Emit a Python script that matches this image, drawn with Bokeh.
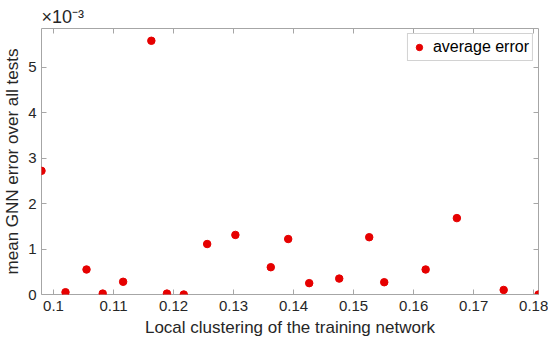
from bokeh.plotting import figure
from bokeh.models import (Range1d, FixedTicker, CustomJSTickFormatter, LinearAxis,
                          Legend, LegendItem, ColumnDataSource)
from bokeh.embed import file_html
from bokeh.resources import INLINE

# Data
clustering = [0.0980, 0.1020, 0.1055, 0.1082, 0.1116, 0.1163, 0.1189, 0.1217,
              0.1256, 0.1303, 0.1362, 0.1391, 0.1426, 0.1476, 0.1526, 0.1551,
              0.1620, 0.1672, 0.1750, 0.1808]
mean_error = [2.72e-3, 0.05e-3, 0.55e-3, 0.02e-3, 0.28e-3, 5.58e-3, 0.02e-3, 0.00e-3,
              1.11e-3, 1.31e-3, 0.60e-3, 1.22e-3, 0.25e-3, 0.35e-3, 1.26e-3, 0.27e-3,
              0.55e-3, 1.68e-3, 0.10e-3, 0.00e-3]
x_ticks = [0.10, 0.11, 0.12, 0.13, 0.14, 0.15, 0.16, 0.17, 0.18]
y_ticks = [0.0, 1e-3, 2e-3, 3e-3, 4e-3, 5e-3]
y_max = 5.85e-3

FONT = "Liberation Sans"
TXT = "#262626"
AX = "#a6a6a6"

p = figure(width=548, height=339, output_backend="svg", toolbar_location=None,
           x_range=Range1d(min(clustering), max(clustering)),
           y_range=Range1d(0, y_max),
           min_border_left=41, min_border_right=10, min_border_top=28, min_border_bottom=43,
           x_axis_label="Local clustering of the training network",
           y_axis_label="mean GNN error over all tests",
           title="\u00d710\u207b\u00b3")
p.background_fill_color = "white"
p.border_fill_color = "white"
p.grid.visible = False
p.outline_line_color = AX
p.outline_line_width = 1

p.title.text_font = FONT
p.title.text_font_size = "18px"
p.title.text_font_style = "normal"
p.title.text_color = TXT
p.title.align = "left"
p.title.offset = 0
p.title.standoff = 4

bottom = p.below[0]
left = p.left[0]

bottom.ticker = FixedTicker(ticks=x_ticks)
bottom.formatter = CustomJSTickFormatter(code="return String(Math.round(tick*100)/100);")
left.ticker = FixedTicker(ticks=y_ticks)
left.formatter = CustomJSTickFormatter(code="return String(Math.round(tick*1000));")

blank = CustomJSTickFormatter(code="return '';")
top = LinearAxis(ticker=FixedTicker(ticks=x_ticks), formatter=blank)
right = LinearAxis(ticker=FixedTicker(ticks=y_ticks), formatter=blank)
p.add_layout(top, "above")
p.add_layout(right, "right")

for ax in [bottom, left, top, right]:
    ax.axis_line_color = None
    ax.major_tick_in = 5
    ax.major_tick_out = 0
    ax.major_tick_line_color = AX
    ax.minor_tick_line_color = None
    ax.major_label_text_font = FONT
    ax.major_label_text_color = TXT
    ax.axis_label_text_font = FONT
    ax.axis_label_text_color = TXT
    ax.axis_label_text_font_style = "normal"

top.major_label_standoff = 0
right.major_label_standoff = 0

bottom.major_label_text_font_size = "15px"
left.major_label_text_font_size = "15px"
bottom.major_label_standoff = 6
left.major_label_standoff = 5
bottom.axis_label_text_font_size = "17px"
left.axis_label_text_font_size = "17px"
bottom.axis_label_standoff = 4
left.axis_label_standoff = 3

src = ColumnDataSource(dict(x=clustering, y=mean_error))
r = p.scatter("x", "y", source=src, size=7.5, fill_color="#e60000", line_color="#e60000")

legend = Legend(items=[LegendItem(label="average error", renderers=[r])],
                location="top_right", label_text_font=FONT, label_text_font_size="16px",
                label_text_color="black", border_line_color=AX, margin=5,
                padding=3, spacing=0, glyph_width=16, label_standoff=6,
                background_fill_alpha=1)
p.add_layout(legend)

open("out.html", "w").write(file_html(p, INLINE))
